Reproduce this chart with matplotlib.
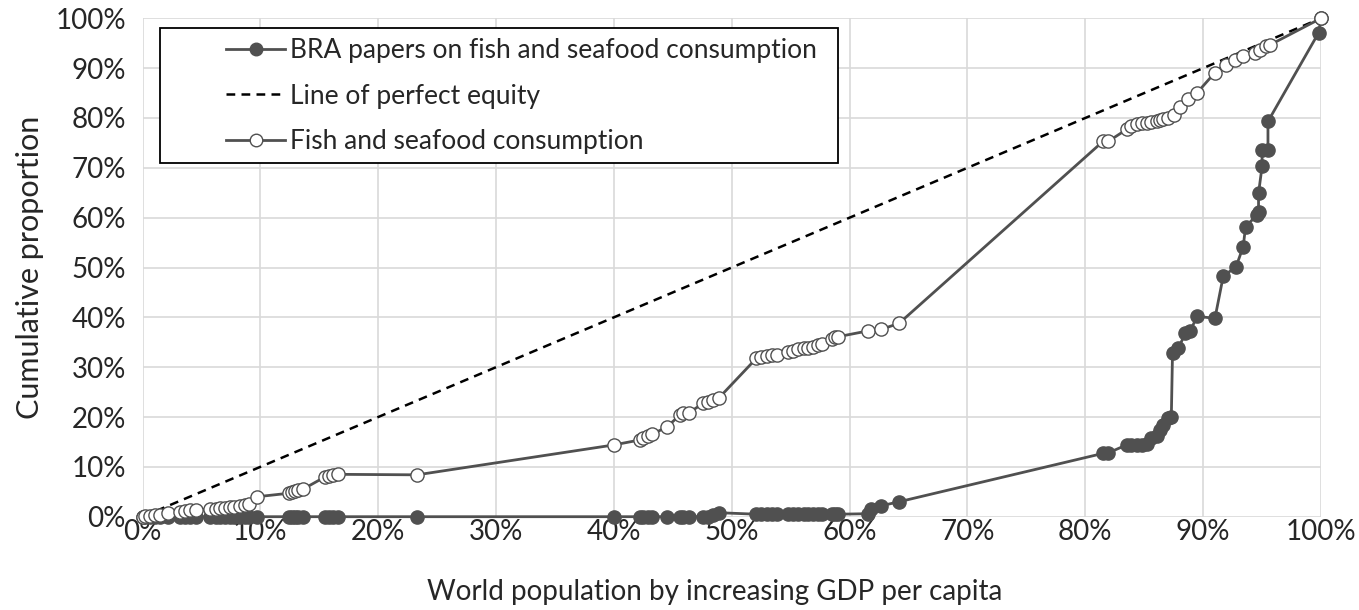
import matplotlib
matplotlib.use("Agg")
import matplotlib.pyplot as plt
from matplotlib.patches import Rectangle
from matplotlib.ticker import FuncFormatter, MultipleLocator

# Cumulative share of world population (countries ordered by GDP per capita)
fish_x = [0.0, 0.2, 0.6, 1.1, 1.5, 2.2, 3.2, 3.6, 4.0, 4.5, 5.7, 6.2, 6.6, 7.0,
          7.4, 7.8, 8.3, 8.7, 9.0, 9.7, 12.4, 12.7, 12.9, 13.2, 13.6, 15.5,
          15.8, 16.2, 16.6, 23.3, 40.0, 42.2, 42.5, 42.9, 43.2, 44.5, 45.6,
          45.9, 46.4, 47.6, 48.0, 48.4, 48.9, 52.1, 52.5, 53.0, 53.4, 53.8,
          54.8, 55.2, 55.6, 56.1, 56.5, 56.9, 57.3, 57.7, 58.5, 58.8, 59.0,
          61.6, 62.7, 64.2, 81.5, 81.95, 83.5, 83.9, 84.4, 84.8, 85.2, 85.6,
          86.1, 86.3, 86.6, 87.0, 87.5, 88.0, 88.7, 89.5, 91.0, 91.9, 92.7,
          93.4, 94.4, 94.8, 95.3, 95.7, 100.0]
# Cumulative share of fish and seafood consumption
fish_y = [0.0, 0.1, 0.2, 0.3, 0.4, 0.7, 1.0, 1.2, 1.3, 1.4, 1.5, 1.6, 1.7, 1.8,
          1.9, 2.0, 2.1, 2.3, 2.6, 4.0, 4.7, 4.9, 5.1, 5.3, 5.5, 8.0,
          8.2, 8.3, 8.5, 8.4, 14.4, 15.4, 15.7, 16.2, 16.5, 18.0, 20.4,
          20.8, 20.9, 22.8, 23.1, 23.4, 23.8, 31.8, 32.1, 32.3, 32.4, 32.5,
          33.1, 33.3, 33.6, 33.8, 33.8, 34.1, 34.5, 34.7, 35.6, 36.0, 36.1,
          37.3, 37.6, 38.8, 75.3, 75.3, 77.7, 78.3, 78.7, 78.9, 79.0, 79.2,
          79.3, 79.5, 79.7, 80.0, 80.6, 82.3, 83.8, 85.1, 89.1, 90.7, 91.7,
          92.4, 93.0, 93.7, 94.4, 94.7, 100.0]

# Cumulative share of world population for the BRA paper counts
bra_x = [0.0, 0.2, 0.6, 1.1, 1.5, 2.2, 3.2, 3.6, 4.0, 4.5, 5.7, 6.2, 6.6, 7.0,
         7.4, 7.8, 8.3, 8.7, 9.0, 9.7, 12.4, 12.7, 12.9, 13.2, 13.6, 15.5,
         15.8, 16.2, 16.6, 23.3, 40.0, 42.2, 42.5, 42.9, 43.2, 44.5, 45.6,
         45.9, 46.4, 47.6, 48.0, 48.4, 48.9, 52.1, 52.5, 53.0, 53.4, 53.8,
         54.8, 55.2, 55.6, 56.1, 56.5, 56.9, 57.3, 57.7, 58.5, 58.8, 59.0,
         61.6, 61.8, 62.7, 64.2, 81.5, 81.95, 83.5, 83.9, 84.4, 84.8, 85.2,
         85.6, 86.1, 86.3, 86.6, 87.0, 87.3, 87.4, 87.9, 88.5, 88.9, 89.5,
         91.0, 91.7, 92.8, 93.4, 93.6, 94.6, 94.7, 94.7, 95.0, 95.0, 95.5,
         95.5, 99.8, 100.0]
# Cumulative share of BRA papers on fish and seafood consumption
bra_y = [0.0, 0.0, 0.0, 0.0, 0.0, 0.0, 0.0, 0.0, 0.0, 0.0, 0.0, 0.0, 0.0, 0.0,
         0.0, 0.0, 0.0, 0.0, 0.0, 0.0, 0.0, 0.0, 0.0, 0.0, 0.0, 0.0,
         0.0, 0.0, 0.0, 0.0, 0.0, 0.0, 0.0, 0.0, 0.0, 0.0, 0.0,
         0.0, 0.0, 0.0, 0.0, 0.3, 0.8, 0.5, 0.5, 0.5, 0.5, 0.5,
         0.5, 0.5, 0.5, 0.5, 0.5, 0.5, 0.5, 0.5, 0.5, 0.5, 0.5,
         0.6, 1.5, 2.2, 3.0, 12.7, 12.8, 14.4, 14.4, 14.4, 14.4, 14.6,
         15.7, 16.1, 17.4, 18.4, 19.8, 20.1, 32.8, 33.8, 36.9, 37.3, 40.2,
         39.8, 48.2, 50.2, 54.2, 58.2, 60.6, 61.2, 64.9, 70.3, 73.6, 73.6,
         79.3, 97.1, 100.0]

equity_x = [0.0, 100.0]
equity_y = [0.0, 100.0]

x_label = "World population by increasing GDP per capita"
y_label = "Cumulative proportion"
series_names = ["BRA papers on fish and seafood consumption",
                "Line of perfect equity",
                "Fish and seafood consumption"]

plt.rcParams["font.family"] = ["Lato", "DejaVu Sans"]

DARK = "#505050"
GRID = "#d9d9d9"
TEXT = "#262626"
W, H = 1359, 610

fig = plt.figure(figsize=(W / 100, H / 100), dpi=100)
ax = fig.add_axes([142.5 / W, 1 - 516.7 / H, 1178.5 / W, 498.4 / H])

ax.plot(bra_x, bra_y, color=DARK, lw=2.0, marker="o", ms=9.5,
        markerfacecolor=DARK, markeredgecolor=DARK, markeredgewidth=1.0,
        label=series_names[0], zorder=3, clip_on=False)
ax.plot(equity_x, equity_y, color="black", lw=1.8, ls=(0, (3.5, 2.5)),
        label=series_names[1], zorder=2)
ax.plot(fish_x, fish_y, color=DARK, lw=2.0, marker="o", ms=9.5,
        markerfacecolor="white", markeredgecolor=DARK, markeredgewidth=1.0,
        label=series_names[2], zorder=4, clip_on=False)

ax.set_xlim(0, 100)
ax.set_ylim(0, 100)
ax.xaxis.set_major_locator(MultipleLocator(10))
ax.yaxis.set_major_locator(MultipleLocator(10))
pct = FuncFormatter(lambda v, _: f"{v:.0f}%")
ax.xaxis.set_major_formatter(pct)
ax.yaxis.set_major_formatter(pct)
ax.grid(True, color=GRID, lw=1.2)
ax.set_axisbelow(True)
for s in ax.spines.values():
    s.set_visible(False)
ax.tick_params(length=0, labelsize=20, colors=TEXT)
ax.tick_params(axis="y", pad=12)
ax.tick_params(axis="x", pad=2)
ax.set_xlabel(x_label, fontsize=20, color=TEXT, va="center")
ax.set_ylabel(y_label, fontsize=22, color=TEXT, va="center")
ax.xaxis.set_label_coords((715 - 142.5) / 1178.5, (516.7 - 592) / 498.4)
ax.yaxis.set_label_coords((30 - 142.5) / 1178.5, 0.5)

# Legend frame, drawn inside the axes beneath the legend entries
frame = Rectangle((160 / W, 1 - 163 / H), (838 - 160) / W, (163 - 28) / H,
                  transform=fig.transFigure, facecolor="white",
                  edgecolor="black", lw=1.3, zorder=5, clip_on=False)
ax.add_artist(frame)
leg = ax.legend(loc="upper left", bbox_to_anchor=(226 / W, 1 - 38 / H),
                bbox_transform=fig.transFigure, fontsize=19, frameon=False,
                handlelength=2.25, handletextpad=0.18, borderpad=0.0,
                borderaxespad=0.0, labelspacing=0.78, markerscale=0.95)
for t in leg.get_texts():
    t.set_color(TEXT)
leg.set_zorder(6)

fig.savefig("out.png", dpi=100, facecolor="white")
